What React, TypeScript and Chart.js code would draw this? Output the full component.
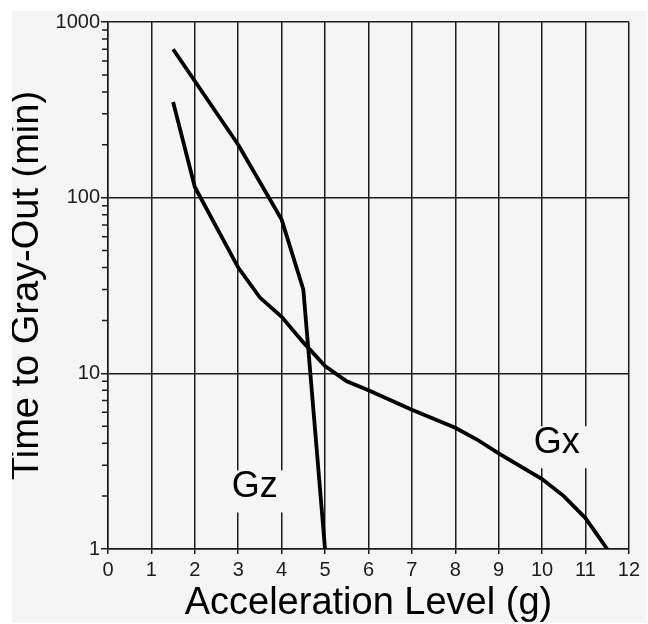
import React, { useEffect, useRef } from "react";
import { Chart, registerables } from "chart.js";

Chart.register(...registerables);

// Gz curve (head-to-foot acceleration)
const gzX = [1.5, 3, 4, 4.5, 5];
const gzY = [700, 200, 75, 30, 1];

// Gx curve (chest-to-back acceleration)
const gxX = [1.5, 2, 3, 3.5, 4, 4.5, 5, 5.5, 6, 7, 8, 8.5, 9, 10, 10.5, 11, 11.5];
const gxY = [350, 115, 40, 27, 21, 15, 11, 9, 8, 6.2, 4.9, 4.2, 3.5, 2.5, 2, 1.5, 1];

// Axis range and ticks
const xMin = 0;
const xMax = 12;
const yMin = 1;
const yMax = 1000;
const yLabelled = [1, 10, 100, 1000];
const yMinorTicks = [
  2, 3, 4, 5, 6, 7, 8, 9,
  20, 30, 40, 50, 60, 70, 80, 90,
  200, 300, 400, 500, 600, 700, 800, 900,
];

// Curve name labels (data coordinates)
const curveLabels = [
  { text: "Gz", x: 3.38, y: 2.24 },
  { text: "Gx", x: 10.34, y: 4.0 },
];

const FONT = '"Liberation Sans", Arial, Helvetica, sans-serif';
const BG = "#f5f5f5";
const INK = "#1c1c1c";

const labelPlugin = {
  id: "curveLabels",
  beforeDatasetsDraw(chart: any) {
    const { ctx, scales } = chart;
    const xs = scales.x;
    const ys = scales.y;
    ctx.save();
    ctx.font = `36px ${FONT}`;
    ctx.textAlign = "center";
    ctx.textBaseline = "middle";
    curveLabels.forEach((l) => {
      const px = xs.getPixelForValue(l.x);
      const py = ys.getPixelForValue(l.y);
      const w = ctx.measureText(l.text).width;
      ctx.fillStyle = BG;
      ctx.fillRect(px - w / 2 - 8, py - 17, w + 16, 42);
      ctx.fillStyle = "#000";
      ctx.fillText(l.text, px, py);
    });
    ctx.restore();
  },
};

// short minor tick marks on the outside of the log axis
const minorTickPlugin = {
  id: "minorTicks",
  afterDraw(chart: any) {
    const { ctx, scales } = chart;
    const ys = scales.y;
    const right = ys.right;
    ctx.save();
    ctx.strokeStyle = INK;
    ctx.lineWidth = 1.5;
    ctx.beginPath();
    yMinorTicks.forEach((v) => {
      const py = ys.getPixelForValue(v);
      ctx.moveTo(right - 6, py);
      ctx.lineTo(right, py);
    });
    ctx.stroke();
    ctx.restore();
  },
};

export default function App() {
  const ref = useRef<HTMLCanvasElement | null>(null);

  useEffect(() => {
    if (!ref.current) return;
    const chart = new Chart(ref.current, {
      type: "line",
      data: {
        datasets: [
          {
            label: "Gz",
            data: gzX.map((x, i) => ({ x, y: gzY[i] })),
            borderColor: "#000",
            borderWidth: 3.8,
            pointRadius: 0,
            fill: false,
            tension: 0,
          },
          {
            label: "Gx",
            data: gxX.map((x, i) => ({ x, y: gxY[i] })),
            borderColor: "#000",
            borderWidth: 3.8,
            pointRadius: 0,
            fill: false,
            tension: 0,
          },
        ],
      },
      options: {
        animation: false,
        responsive: false,
        devicePixelRatio: 1,
        layout: { padding: { left: 0, top: 11, right: 11, bottom: 0 } },
        plugins: {
          legend: { display: false },
          tooltip: { enabled: false },
        },
        scales: {
          x: {
            type: "linear",
            min: xMin,
            max: xMax,
            afterFit: (s: any) => {
              s.height = 74;
            },
            ticks: {
              stepSize: 1,
              color: INK,
              padding: 6,
              autoSkip: false,
              font: { family: FONT, size: 20, lineHeight: 1 },
            },
            grid: {
              color: INK,
              lineWidth: 1.5,
              tickLength: 5,
              tickColor: INK,
            },
            border: { color: INK, width: 1.5 },
            title: {
              display: true,
              text: "Acceleration Level (g)",
              color: "#000",
              font: { family: FONT, size: 38, lineHeight: 1 },
              padding: { top: 0, bottom: 0.5 },
            },
          },
          y: {
            type: "logarithmic",
            min: yMin,
            max: yMax,
            afterFit: (s: any) => {
              s.width = 96;
            },
            afterBuildTicks: (s: any) => {
              s.ticks = yLabelled.map((v) => ({ value: v, major: true }));
            },
            ticks: {
              color: INK,
              padding: 1,
              autoSkip: false,
              font: { family: FONT, size: 20, lineHeight: 1 },
              callback: (v: any) => String(v),
            },
            grid: {
              color: INK,
              tickColor: INK,
              lineWidth: 1.5,
              tickLength: 7,
            },
            border: { color: INK, width: 1.5 },
            title: {
              display: true,
              text: "Time to Gray-Out (min)",
              color: "#000",
              font: { family: FONT, size: 38, lineHeight: 1 },
              padding: { top: -3, bottom: 0 },
            },
          },
        },
      },
      plugins: [labelPlugin, minorTickPlugin],
    } as any);
    return () => chart.destroy();
  }, []);

  return (
    <div
      style={{
        position: "absolute",
        left: 0,
        top: 0,
        width: 648,
        height: 624,
        background: "#fff",
      }}
    >
      <canvas
        ref={ref}
        width={634}
        height={612}
        style={{
          position: "absolute",
          left: 12,
          top: 11,
          width: 634,
          height: 612,
          background: BG,
        }}
      />
    </div>
  );
}
